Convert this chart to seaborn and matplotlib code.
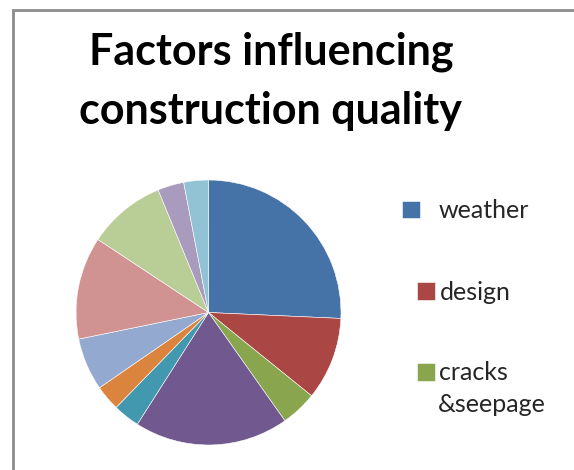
import matplotlib
matplotlib.use("Agg")
import matplotlib.pyplot as plt
import seaborn as sns
from matplotlib.patches import Rectangle

factors = ["weather", "design", "cracks\n&seepage", "factor 4", "factor 5", "factor 6",
           "factor 7", "factor 8", "factor 9", "factor 10", "factor 11"]
shares = [25.7, 10.1, 4.4, 18.8, 3.25, 3.1, 6.4, 12.5, 9.5, 3.2, 3.0]
colors = ["#4572A7", "#AA4643", "#89A54E", "#71588F", "#4198AF", "#DB843D",
          "#93A9CF", "#D19392", "#B9CD96", "#A99BBD", "#92C3D4"]

sns.set_theme(style="white")
plt.rcParams["font.family"] = ["Lato", "DejaVu Sans"]

fig = plt.figure(figsize=(5.74, 4.70), dpi=100)
ax = fig.add_axes([0.1324, 0.0532, 0.4617, 0.5638])

wedges, _ = ax.pie(shares, colors=sns.color_palette(colors), startangle=90,
                   counterclock=False, radius=1,
                   wedgeprops=dict(edgecolor="white", linewidth=0.4))
ax.set_xlim(-1, 1)
ax.set_ylim(-1, 1)
ax.set_aspect("equal")
ax.axis("off")

# chart border (only left and top are visible in the crop)
fig.patches.append(Rectangle((13 / 574, -0.05), 1.2, 1.05 - 9.5 / 470,
                             transform=fig.transFigure, fill=False,
                             edgecolor="#8c8c8c", linewidth=2))

fig.text(0.472, 1 - 31 / 470, "Factors influencing\nconstruction quality",
         ha="center", va="top", fontsize=31, fontweight="bold",
         linespacing=1.6, color="black")

# legend: only the first three entries fit in the chart area
legend_pos = [(402, 211, 0.75), (417, 292, 0.2), (417, 373, 0.2)]
for i, (x, y, pad) in enumerate(legend_pos):
    label = factors[i].split("\n")[0]
    leg = fig.legend([wedges[i]], [label], loc="center left",
                     bbox_to_anchor=(x / 574, 1 - y / 470), frameon=False,
                     fontsize=18, handlelength=0.7, handleheight=0.7,
                     handletextpad=pad, borderpad=0, borderaxespad=0)
fig.text(438 / 574, 1 - 405 / 470, factors[2].split("\n")[1],
         ha="left", va="center", fontsize=18)

fig.savefig("out.png", dpi=100)
